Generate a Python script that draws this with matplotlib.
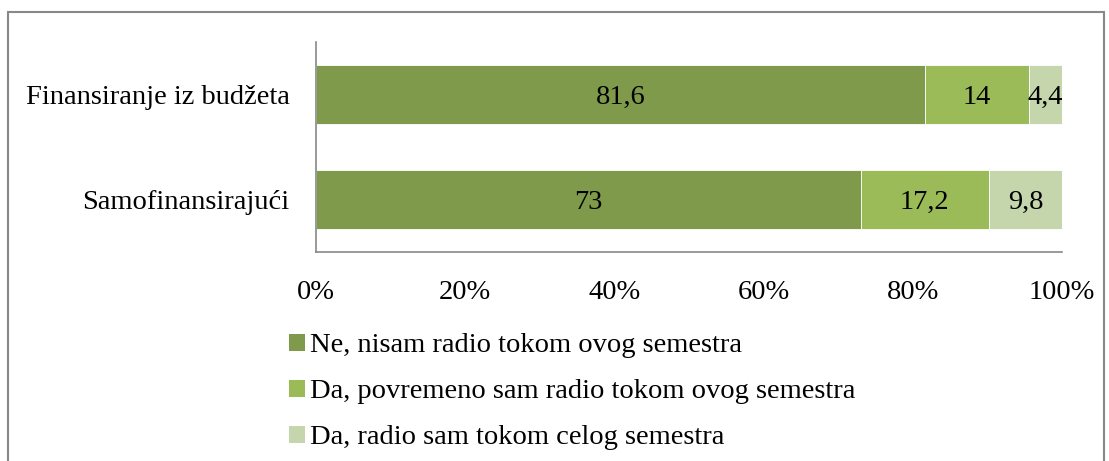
import matplotlib.pyplot as plt
from matplotlib.patches import Rectangle, Patch

categories = ['Samofinansirajući', 'Finansiranje iz budžeta']
series_names = ['Ne, nisam radio tokom ovog semestra',
                'Da, povremeno sam radio tokom ovog semestra',
                'Da, radio sam tokom celog semestra']
values = [
    [73, 81.6],
    [17.2, 14],
    [9.8, 4.4],
]
labels = [
    ['73', '81,6'],
    ['17,2', '14'],
    ['9,8', '4,4'],
]
colors = ['#7F9A4B', '#9BBB59', '#C5D6AC']
ticks = [0, 20, 40, 60, 80, 100]

plt.rcParams['font.family'] = ['Liberation Serif', 'DejaVu Serif']
FS = 20.5

fig = plt.figure(figsize=(11.09, 4.61), dpi=100)
W, H = 1109, 461

# outer chart frame
fig.patches.append(Rectangle((8 / W, -0.1), (1104 - 8) / W, 1.1 - 12 / H,
                             transform=fig.transFigure, fill=False,
                             edgecolor='#888888', linewidth=1.5))

ax = fig.add_axes([316 / W, 1 - 252 / H, (1062 - 316) / W, (252 - 42) / H])

left = [0, 0]
for vals, labs, col, name in zip(values, labels, colors, series_names):
    totals = [sum(v[i] for v in values) for i in range(2)]
    widths = [vals[i] / totals[i] * 100 for i in range(2)]
    ax.barh(range(2), widths, left=left, height=0.57, color=col,
            edgecolor='white', linewidth=0.6, label=name)
    for i in range(2):
        ax.text(left[i] + widths[i] / 2, i, labs[i], ha='center',
                va='center_baseline', fontsize=FS, color='#000000')
    left = [left[i] + widths[i] for i in range(2)]

ax.set_xlim(0, 100)
ax.set_ylim(-0.5, 1.5)
ax.set_yticks(range(2))
ax.set_yticklabels(categories, fontsize=FS)
ax.set_xticks(ticks)
ax.set_xticklabels([f'{t}%' for t in ticks], fontsize=FS)
ax.tick_params(length=0)
ax.tick_params(axis='x', pad=20)
ax.tick_params(axis='y', pad=19)
for s in ['top', 'right']:
    ax.spines[s].set_visible(False)
for s in ['left', 'bottom']:
    ax.spines[s].set_color('#888888')
    ax.spines[s].set_linewidth(1.2)

handles = [Patch(facecolor=c, edgecolor='none') for c in colors]
fig.legend(handles, series_names, loc='upper left',
           bbox_to_anchor=(275 / W, 1 - 319 / H), frameon=False,
           fontsize=FS, handlelength=0.55, handleheight=0.55,
           handletextpad=0.18, labelspacing=0.74, borderpad=0)

fig.savefig('out.png', dpi=100)
